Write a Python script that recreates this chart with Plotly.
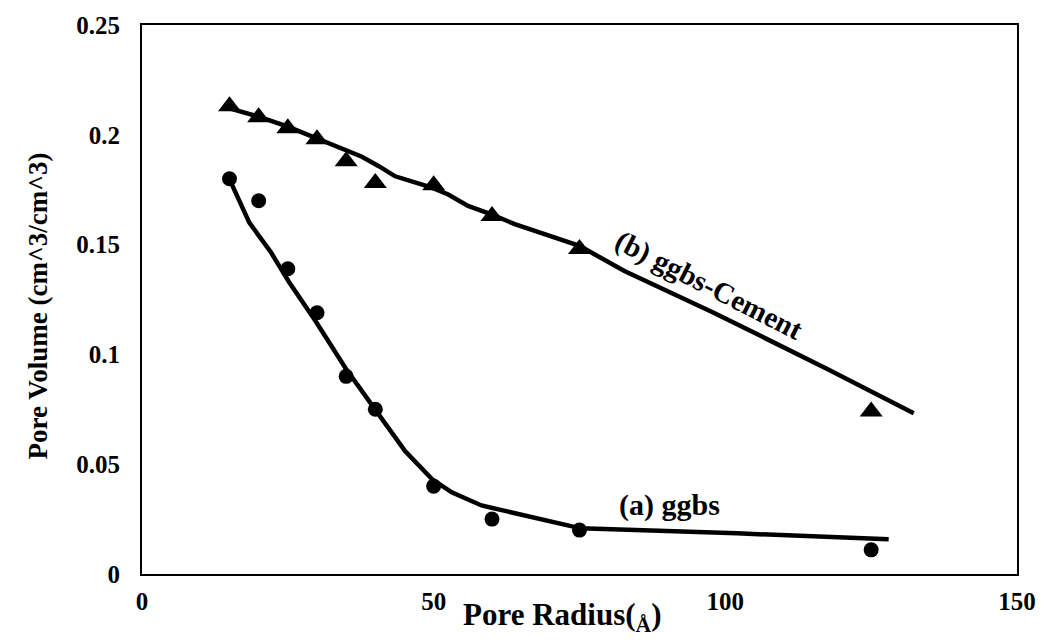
import plotly.graph_objects as go

radius = [15, 20, 25, 30, 35, 40, 50, 60, 75, 125]
ggbs_cement = [0.213, 0.208, 0.203, 0.198, 0.188, 0.178, 0.177, 0.163, 0.148, 0.074]
ggbs = [0.180, 0.170, 0.139, 0.119, 0.090, 0.075, 0.040, 0.025, 0.020, 0.011]

# Fitted curves
fit_b_x = [15, 20, 25, 30, 35.5, 37.7, 40.6, 43.4, 49.7, 52.5, 55.9, 59.9, 63.9, 75, 82.7, 98, 117.3, 132.3]
fit_b_y = [0.212, 0.2083, 0.2037, 0.1985, 0.1925, 0.190, 0.1857, 0.1811, 0.1759, 0.1728, 0.1676, 0.1638, 0.1593, 0.1494, 0.138, 0.119, 0.0936, 0.0732]
fit_a_x = [15.3, 18.4, 22.1, 25.2, 29.8, 34.9, 40.6, 45.1, 49.7, 53.1, 58.2, 64.4, 75.2, 102, 128]
fit_a_y = [0.178, 0.160, 0.1465, 0.133, 0.115, 0.0937, 0.0726, 0.056, 0.0432, 0.0372, 0.0312, 0.0274, 0.0208, 0.0185, 0.0158]

x_ticks = [0, 50, 100, 150]
y_ticks = [0, 0.05, 0.1, 0.15, 0.2, 0.25]
y_tick_text = ["0", "0.05", "0.1", "0.15", "0.2", "0.25"]

FONT = "Liberation Serif, Times New Roman, serif"

fig = go.Figure()
fig.add_trace(go.Scatter(x=fit_b_x, y=fit_b_y, mode="lines",
                         line=dict(color="black", width=4.5), showlegend=False))
fig.add_trace(go.Scatter(x=fit_a_x, y=fit_a_y, mode="lines",
                         line=dict(color="black", width=4.5), showlegend=False))
fig.add_trace(go.Scatter(x=radius, y=ggbs_cement, mode="markers",
                         marker=dict(symbol="triangle-up", size=20, color="black"),
                         showlegend=False))
fig.add_trace(go.Scatter(x=radius, y=ggbs, mode="markers",
                         marker=dict(symbol="circle", size=15, color="black"),
                         showlegend=False))

axis_common = dict(showgrid=False, zeroline=False, showline=True, mirror=True,
                   linecolor="black", linewidth=2, ticks="",
                   tickfont=dict(family=FONT, size=25, color="black", weight="bold"))

fig.update_xaxes(range=[0, 150], tickvals=x_ticks, ticktext=[str(v) for v in x_ticks],
                 ticklabelstandoff=4, **axis_common)
fig.update_yaxes(range=[0, 0.25], tickvals=y_ticks, ticktext=y_tick_text,
                 ticklabelstandoff=15, **axis_common)

fig.add_annotation(text="Pore Radius(<sub>Å</sub>)", xref="paper", yref="paper",
                   x=0.4807, y=-0.079, showarrow=False, xanchor="center", yanchor="middle",
                   font=dict(family=FONT, size=31, color="black", weight="bold"))
fig.add_annotation(text="Pore Volume (cm^3/cm^3)", xref="paper", yref="paper",
                   x=-0.119, y=0.489, showarrow=False, textangle=-90,
                   xanchor="center", yanchor="middle",
                   font=dict(family=FONT, size=27, color="black", weight="bold"))
fig.add_annotation(text="(b) ggbs-Cement", x=97.2, y=0.1312, showarrow=False,
                   textangle=27, xanchor="center", yanchor="middle",
                   font=dict(family=FONT, size=29, color="black", weight="bold"))
fig.add_annotation(text="(a) ggbs", x=90.4, y=0.0316, showarrow=False,
                   xanchor="center", yanchor="middle",
                   font=dict(family=FONT, size=30, color="black", weight="bold"))

fig.update_layout(width=1048, height=642, paper_bgcolor="white", plot_bgcolor="white",
                  margin=dict(l=142, r=26, t=23, b=68))

fig.write_html("out.html", config={"displayModeBar": False},
               post_script="document.body.style.margin='0';document.body.style.overflow='hidden';")
